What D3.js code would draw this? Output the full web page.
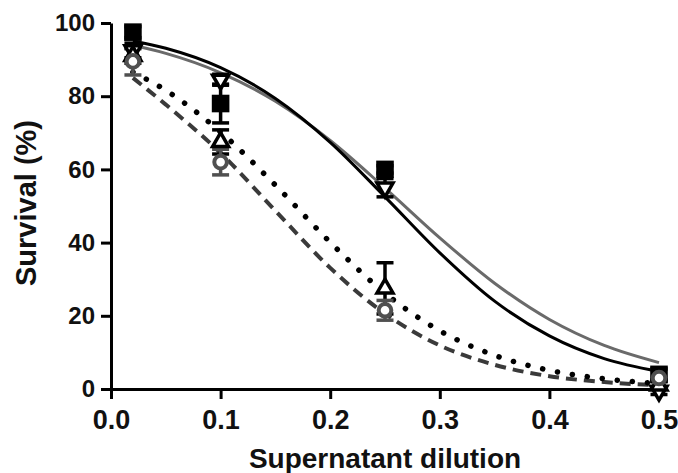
<!DOCTYPE html>
<html>
<head>
<meta charset="utf-8">
<script src="https://cdn.jsdelivr.net/npm/d3@7"></script>
<style>
  html, body { margin: 0; padding: 0; background: #fff; }
  svg { display: block; }
  text { font-family: "Liberation Sans", Arial, Helvetica, sans-serif; font-weight: bold; }
</style>
</head>
<body>
<svg id="chart" width="678" height="473"></svg>
<script>
// dilutions where the survival was measured
var dilutions = [0.02, 0.1, 0.25, 0.5]

// mean survival (%) and error for each group
var squareMean = [97.5, 78, 60, 4]
var squareErr  = [1.5, 5.3, 1, 1.5]
var invTriMean = [92.5, 84.5, 55, -0.5]
var invTriErr  = [2, 1.5, 2.5, 1]
var triMean    = [91, 67.5, 27.5, 1]
var triErr     = [2, 3.3, 7, 1]
var circleMean = [89.5, 62, 21.5, 3]
var circleErr  = [3.7, 3.5, 2.7, 2.5]

// fitted curves
var curveX      = [0.02, 0.05, 0.1, 0.15, 0.2, 0.25, 0.3, 0.35, 0.4, 0.45, 0.5]
var fitSquare   = [95.1, 93.1, 87.8, 79.4, 67.4, 52.5, 37.2, 24.0, 14.5, 8.3, 4.8]
var fitInvTri   = [93.9, 91.7, 86.4, 78.6, 67.9, 54.9, 41.3, 28.9, 19.0, 11.9, 7.2]
var fitTri      = [86.6, 81.6, 70.2, 55.7, 40.1, 26.2, 15.9, 9.2, 5.1, 2.8, 1.5]
var fitCircle   = [85, 77.7, 64.5, 48.7, 33.1, 20.6, 11.9, 6.6, 3.5, 1.9, 1.0]

// tick labels
var xTicks = [0, 0.1, 0.2, 0.3, 0.4, 0.5]
var yTicks = [0, 20, 40, 60, 80, 100]

var svg = d3.select("#chart")
var plotL = 111, plotR = 659, plotT = 23, plotB = 389

var x = d3.scaleLinear().domain([0, 0.5]).range([plotL, plotR])
var y = d3.scaleLinear().domain([0, 100]).range([plotB, plotT])

// axes
var yAxis = svg.append("g")
   .attr("transform", "translate(" + plotL + ",0)")
   .call(d3.axisLeft(y).tickValues(yTicks).tickSize(10).tickSizeOuter(0).tickPadding(6))
var xAxis = svg.append("g")
   .attr("transform", "translate(0," + plotB + ")")
   .call(d3.axisBottom(x).tickValues(xTicks).tickFormat(d3.format(".1f"))
         .tickSize(10).tickSizeOuter(0).tickPadding(11))

svg.selectAll(".domain, .tick line")
   .attr("stroke", "#000")
   .attr("stroke-width", 3)
yAxis.selectAll("text").attr("font-size", 24).attr("fill", "#111")
xAxis.selectAll("text").attr("font-size", 27).attr("fill", "#111")

// axis titles
svg.append("text")
   .attr("x", (plotL + plotR) / 2)
   .attr("y", 468)
   .attr("text-anchor", "middle")
   .attr("font-size", 28)
   .attr("fill", "#111")
   .text("Supernatant dilution")

svg.append("text")
   .attr("transform", "translate(36," + ((plotT + plotB) / 2 - 3) + ") rotate(-90)")
   .attr("text-anchor", "middle")
   .attr("font-size", 29)
   .attr("fill", "#111")
   .text("Survival (%)")

// fitted curves
var line = d3.line()
   .x(function (d) { return x(d[0]) })
   .y(function (d) { return y(d[1]) })
   .curve(d3.curveMonotoneX)

var curves = [
   { ys: fitCircle, color: "#3a3a3a", width: 4, dash: "11 7", cap: "butt" },
   { ys: fitTri,    color: "#000",    width: 5.5, dash: "0.1 15", cap: "round" },
   { ys: fitInvTri, color: "#6a6a6a", width: 3, dash: null, cap: "butt" },
   { ys: fitSquare, color: "#000",    width: 3, dash: null, cap: "butt" }
]
curves.forEach(function (c) {
   svg.append("path")
      .datum(curveX.map(function (v, i) { return [v, c.ys[i]] }))
      .attr("d", line)
      .attr("fill", "none")
      .attr("stroke", c.color)
      .attr("stroke-width", c.width)
      .attr("stroke-linecap", c.cap)
      .attr("stroke-dasharray", c.dash)
})

// groups: marker shape, colours
var groups = [
   { mean: squareMean, err: squareErr, type: d3.symbolSquare, size: 310, rot: 0, fill: "#000", stroke: "#000", sw: 0, barColor: "#000" },
   { mean: invTriMean, err: invTriErr, type: d3.symbolTriangle, size: 110, rot: 180, fill: "#fff", stroke: "#000", sw: 3.5, barColor: "#000" },
   { mean: triMean,    err: triErr,    type: d3.symbolTriangle, size: 110, rot: 0, fill: "#fff", stroke: "#000", sw: 3.5, barColor: "#000" },
   { mean: circleMean, err: circleErr, type: d3.symbolCircle, size: 125, rot: 0, fill: "#fff", stroke: "#505050", sw: 4, barColor: "#505050" }
]

// error bars first, markers on top
var capHalf = 8.5
groups.forEach(function (g) {
   var bars = svg.append("g")
      .attr("stroke", g.barColor)
      .attr("stroke-width", 3.5)
   dilutions.forEach(function (dx, i) {
      var cx = x(dx), lo = y(g.mean[i] - g.err[i]), hi = y(g.mean[i] + g.err[i])
      bars.append("line").attr("x1", cx).attr("x2", cx).attr("y1", lo).attr("y2", hi)
      bars.append("line").attr("x1", cx - capHalf).attr("x2", cx + capHalf).attr("y1", lo).attr("y2", lo)
      bars.append("line").attr("x1", cx - capHalf).attr("x2", cx + capHalf).attr("y1", hi).attr("y2", hi)
   })
})

groups.forEach(function (g) {
   svg.append("g")
      .selectAll("path")
      .data(dilutions.map(function (dx, i) { return [dx, g.mean[i]] }))
      .join("path")
      .attr("d", d3.symbol().type(g.type).size(g.size))
      .attr("transform", function (d) {
         return "translate(" + x(d[0]) + "," + y(d[1]) + ") rotate(" + g.rot + ")"
      })
      .attr("fill", g.fill)
      .attr("stroke", g.stroke)
      .attr("stroke-width", g.sw)
})
</script>
</body>
</html>
